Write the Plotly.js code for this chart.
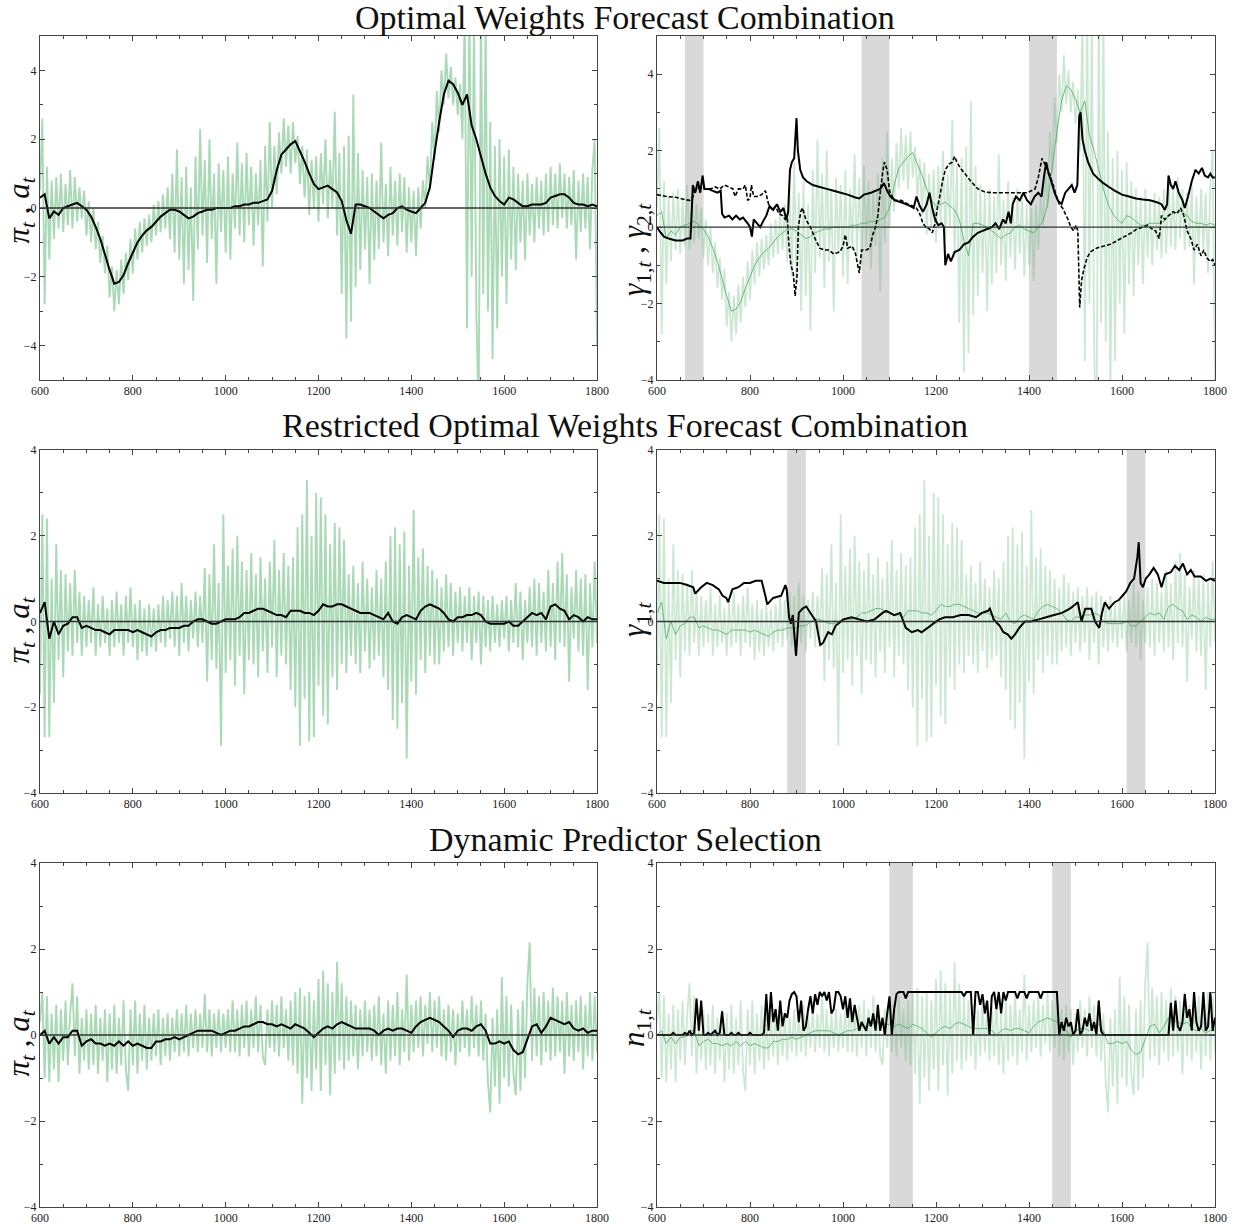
<!DOCTYPE html>
<html>
<head>
<meta charset="utf-8">
<script src="https://cdn.plot.ly/plotly-3.0.1.min.js"></script>
<style>html,body{margin:0;padding:0;background:#fff}#chart{width:1238px;height:1225px}</style>
</head>
<body>
<div id="chart"></div>
<script>
// ---------------- DATA ----------------
const T0 = 600;            // first time index
const tickTimes = [600, 800, 1000, 1200, 1400, 1600, 1800];

// Row 1: Optimal Weights Forecast Combination
// noisy green series, sampled every 5 periods (600..1800)
const piOW = [
  0.5,2.6,-2.8,1.2,-1.5,0.8,-0.9,0.9,-0.6,1.0, -0.7,0.7,-0.5,1.1,-0.6,0.9,-0.4,0.6,-0.3,0.5,
  -0.8,0.2,-1.0,0.0,-1.2,-0.4,-1.6,-0.8,-1.9,-1.1, -2.6,-1.7,-3.0,-1.8,-2.8,-1.5,-2.5,-1.3,-2.1,-0.9,
  -1.9,-0.6,-1.5,-0.4,-1.3,-0.3,-1.1,-0.2,-1.0,0.1, -0.8,0.2,-0.7,0.4,-0.6,0.6,-0.9,1.0,-1.3,1.7,
  -1.5,0.9,-2.2,1.2,-1.8,0.6,-2.7,1.5,-1.2,2.3, -0.8,1.4,-1.6,2.0,-0.9,1.0,-2.2,1.3,-0.7,1.1,
  -1.3,1.5,-1.5,1.0,-0.6,1.9,-0.8,1.3,-1.0,1.6, -0.5,1.2,-1.1,1.0,-0.5,1.4,-1.7,1.8,-0.4,2.5,
  0.0,1.8,0.4,2.2,1.0,2.6,1.2,2.4,1.0,2.5, 1.3,2.1,0.7,1.8,0.3,1.7,-0.2,1.4,0.0,1.5,
  -0.4,1.6,0.1,2.0,-0.3,1.4,0.0,2.8,-0.8,1.6, -2.5,1.8,-3.8,2.1,-3.3,3.3,-2.3,1.6,-1.8,1.1,
  -1.2,0.9,-2.2,1.0,-1.5,0.8,-1.2,1.9,-1.0,0.7, -1.4,1.2,-0.8,0.8,-1.1,1.0,-0.7,0.9,-1.3,0.6,
  -1.0,0.5,-1.4,0.6,-0.6,0.8,0.0,1.5,0.5,2.5, 1.4,3.4,2.2,4.0,3.0,4.5,3.2,4.1,3.0,3.8,
  2.7,3.6,2.0,5.5,-3.5,6.0,-2.0,5.5,-3.0,-6.0, 6.0,-2.5,5.5,-3.0,2.5,-4.4,1.8,-3.5,2.0,-2.0,
  1.5,-2.8,1.7,-1.5,1.2,-1.8,1.0,-1.0,0.8,-1.5, 1.0,-0.8,0.7,-1.0,0.9,-0.6,0.8,-0.8,1.0,-0.7,
  1.2,-0.5,1.0,-0.6,1.3,-0.3,1.0,-0.6,0.9,-0.5, 1.1,-1.5,0.8,-0.7,1.0,-0.6,0.9,-1.2,1.1,2.0,
  -4.0
];
// smooth black series a_t, sampled every 10 periods
const aOW = [
  0.3,0.4,-0.3,-0.1,-0.2,0.0,0.05,0.1,0.15,0.05,
  -0.05,-0.25,-0.55,-0.9,-1.35,-1.8,-2.2,-2.15,-1.95,-1.6,
  -1.3,-1.0,-0.8,-0.65,-0.55,-0.4,-0.25,-0.15,-0.05,-0.05,
  -0.1,-0.2,-0.3,-0.25,-0.15,-0.1,-0.05,-0.05,0.0,0.0,
  0.0,0.0,0.05,0.05,0.1,0.1,0.15,0.15,0.2,0.25,
  0.5,1.1,1.55,1.7,1.85,1.95,1.65,1.35,1.0,0.7,
  0.55,0.6,0.65,0.55,0.45,0.2,-0.35,-0.75,0.1,0.1,
  0.05,0.0,-0.1,-0.2,-0.3,-0.2,-0.15,0.0,0.05,-0.05,
  -0.1,-0.15,0.0,0.15,0.6,1.6,2.5,3.3,3.7,3.6,
  3.35,3.0,3.3,2.4,2.0,1.5,1.0,0.6,0.35,0.2,
  0.1,0.3,0.25,0.15,0.05,0.05,0.1,0.1,0.1,0.15,
  0.3,0.35,0.4,0.4,0.3,0.15,0.1,0.1,0.05,0.1,
  0.05
];
// gamma_1,t (solid) and gamma_2,t (dashed)
const g1OWt = [600,605,615,625,640,655,665,672,675,677,682,688,693,698,702,710,720,730,737,740,745,755,762,770,778,785,795,800,804,808,815,822,828,835,842,850,858,865,872,878,882,886,890,895,900,903,908,914,922,935,950,965,980,995,1010,1025,1035,1045,1060,1070,1080,1088,1095,1102,1112,1125,1135,1145,1152,1158,1165,1172,1180,1186,1192,1198,1205,1212,1217,1220,1226,1232,1240,1250,1260,1270,1280,1290,1300,1310,1320,1328,1336,1344,1350,1356,1361,1365,1372,1380,1388,1396,1404,1412,1420,1427,1432,1437,1442,1448,1455,1462,1470,1478,1485,1492,1498,1504,1508,1511,1515,1520,1527,1538,1550,1560,1572,1585,1600,1615,1630,1645,1660,1675,1685,1692,1697,1700,1705,1710,1715,1722,1730,1735,1742,1750,1758,1765,1772,1778,1785,1790,1795,1800];
const g1OWv = [0.0,-0.1,-0.25,-0.3,-0.35,-0.35,-0.3,-0.3,0.5,1.1,0.9,1.2,0.9,1.35,1.0,1.0,0.95,0.9,0.95,0.35,0.25,0.3,0.2,0.3,0.2,0.25,0.1,0.0,-0.25,0.2,0.1,0.0,0.15,0.3,0.55,0.45,0.6,0.4,0.5,0.2,0.4,1.5,1.7,1.8,2.85,2.0,1.5,1.3,1.2,1.1,1.05,1.0,0.95,0.9,0.85,0.78,0.75,0.85,0.9,0.95,1.0,1.15,0.95,0.8,0.7,0.65,0.6,0.55,0.5,0.8,0.55,0.4,0.6,0.9,0.5,0.2,0.05,0.1,0.0,-1.0,-0.7,-0.9,-0.65,-0.6,-0.45,-0.4,-0.25,-0.15,-0.1,-0.05,0.0,0.1,-0.05,0.2,0.1,0.4,0.1,0.6,0.8,0.7,0.9,0.7,0.6,0.8,0.9,0.8,1.3,1.7,1.4,1.2,0.9,0.7,0.6,0.9,1.0,1.1,0.9,1.1,2.9,3.0,2.3,2.0,1.7,1.4,1.25,1.15,1.05,0.95,0.85,0.8,0.75,0.72,0.7,0.65,0.6,0.45,0.6,1.35,1.1,1.0,1.2,0.9,0.7,0.5,0.8,1.2,1.5,1.4,1.55,1.35,1.3,1.4,1.3,1.3];
const g2OWt = [600,620,640,660,670,676,680,686,695,705,715,725,735,745,755,763,768,775,785,790,795,800,803,808,815,825,833,840,848,855,862,870,876,880,884,888,893,897,901,904,909,913,920,930,940,950,960,970,980,993,1000,1005,1010,1020,1027,1030,1035,1040,1050,1058,1064,1070,1075,1080,1085,1089,1095,1100,1110,1125,1140,1150,1158,1165,1172,1178,1186,1192,1198,1203,1208,1214,1220,1228,1235,1240,1245,1252,1262,1275,1290,1305,1320,1340,1360,1380,1395,1405,1413,1420,1428,1436,1444,1452,1458,1465,1472,1478,1484,1490,1496,1501,1505,1509,1513,1518,1525,1532,1545,1560,1575,1590,1605,1620,1632,1645,1655,1665,1672,1680,1685,1692,1700,1710,1718,1726,1733,1740,1748,1755,1762,1770,1776,1782,1790,1795,1800];
const g2OWv = [0.85,0.8,0.78,0.72,0.7,0.75,0.9,1.0,1.05,1.0,1.0,1.05,1.0,1.1,1.05,1.0,0.8,1.0,1.0,1.1,0.7,0.75,1.1,0.8,0.8,0.85,0.95,0.6,0.45,0.55,0.35,0.3,0.2,0.25,-0.5,-1.0,-1.2,-1.8,-1.3,0.0,0.4,0.5,0.2,0.0,-0.3,-0.55,-0.6,-0.6,-0.7,-0.65,-0.5,-0.2,-0.55,-0.5,-0.7,-0.9,-1.2,-0.6,-0.6,-0.55,-0.2,0.0,0.3,0.9,1.4,1.7,1.5,0.95,0.7,0.7,0.6,0.55,0.5,0.35,0.1,0.0,-0.05,-0.15,0.1,0.5,0.8,1.2,1.5,1.65,1.7,1.85,1.7,1.55,1.4,1.2,1.0,0.92,0.9,0.9,0.9,0.9,0.9,0.95,1.0,1.3,1.8,1.6,1.4,1.1,0.85,0.6,0.5,0.35,0.2,0.0,-0.1,0.05,-0.1,-2.1,-1.4,-1.1,-0.8,-0.65,-0.55,-0.5,-0.45,-0.35,-0.25,-0.15,-0.05,0.0,0.05,-0.05,-0.1,-0.3,0.3,0.2,0.3,0.4,0.35,0.5,0.3,-0.1,-0.3,-0.6,-0.45,-0.75,-0.6,-0.8,-0.9,-0.85,-1.0];
const bandsOW = [[660, 700], [1040, 1100], [1400, 1460]];

// Row 2: Restricted Optimal Weights Forecast Combination
const piROW = [
  -1.7,2.5,-2.7,2.4,-2.7,1.0,-1.9,1.8,-0.9,1.2, -1.3,1.1,-0.7,0.9,-0.8,1.2,-0.5,0.7,-0.8,0.6,
  -0.6,0.5,-0.5,0.8,-0.8,0.4,-0.6,0.6,-0.5,0.3, -0.8,0.5,-0.6,0.7,-0.5,0.4,-0.8,0.6,-0.5,0.8,
  -0.6,0.4,-0.9,0.5,-0.7,0.3,-0.8,0.4,-0.6,0.3, -0.7,0.4,-0.5,0.6,-0.6,0.5,-0.4,0.7,-0.6,0.6,
  -0.8,0.9,-0.5,0.6,-0.7,0.5,-0.4,0.7,-0.6,0.6, -0.5,1.25,-1.4,1.1,-0.9,1.8,-1.1,0.9,-2.9,2.5,
  -1.2,1.3,-0.9,1.7,-1.5,2.0,-0.8,1.4,-1.7,1.2, -0.9,1.6,-1.0,1.1,-1.3,1.5,-0.7,1.0,-1.2,1.4,
  -0.6,1.9,-1.3,1.2,-0.8,1.6,-1.0,1.3,-1.6,1.5, -2.0,2.2,-2.9,2.5,-1.8,3.3,-2.8,2.0,-2.7,3.0,
  -1.5,2.9,-2.2,2.5,-2.4,1.8,-1.3,2.3,-1.6,2.2, -1.0,1.9,-1.2,1.1,-0.8,1.3,-1.0,0.9,-1.2,1.4,
  -0.7,1.0,-1.1,0.8,-0.9,1.2,-0.8,1.0,-1.3,1.4, -1.6,2.0,-2.3,2.2,-2.5,1.8,-1.9,2.1,-3.2,1.3,
  -1.4,2.6,-1.7,1.5,-0.9,1.7,-1.2,1.3,-0.8,1.2, -1.0,1.0,-1.0,0.8,-0.7,1.1,-0.6,0.9,-0.8,0.7,
  -0.5,0.8,-0.7,0.6,-0.5,0.8,-0.9,0.6,-0.5,0.7, -1.0,0.6,-0.6,0.5,-0.7,0.6,-0.5,0.4,-0.6,0.5,
  -0.4,0.6,-0.7,0.5,-0.5,0.9,-0.6,0.7,-0.9,0.5, -0.5,0.8,-0.6,1.0,-0.8,0.9,-0.5,0.7,-0.7,1.2,
  -0.6,0.9,-0.9,1.4,-0.5,1.6,-0.6,1.1,-1.4,0.8, -0.4,1.2,-0.7,1.0,-0.8,1.1,-1.6,0.9,-0.6,1.4,
  -0.5
];
const aROW = [
  0.2,0.45,-0.4,0.0,-0.3,-0.1,-0.05,0.1,0.1,-0.15,
  -0.1,-0.15,-0.2,-0.2,-0.25,-0.3,-0.2,-0.2,-0.2,-0.2,
  -0.25,-0.2,-0.25,-0.3,-0.35,-0.25,-0.2,-0.2,-0.15,-0.15,
  -0.15,-0.1,-0.1,0.0,0.05,0.05,0.0,-0.05,-0.05,0.0,
  0.05,0.05,0.05,0.1,0.2,0.2,0.25,0.3,0.3,0.25,
  0.2,0.15,0.15,0.1,0.25,0.25,0.25,0.2,0.2,0.15,
  0.25,0.4,0.35,0.35,0.4,0.4,0.35,0.3,0.25,0.2,
  0.2,0.2,0.15,0.1,0.05,0.2,0.0,-0.05,0.1,0.15,
  0.1,0.05,0.25,0.35,0.4,0.35,0.3,0.2,0.05,0.0,
  0.1,0.1,0.15,0.15,0.2,0.15,0.0,-0.05,-0.05,-0.05,
  -0.05,0.0,-0.1,-0.1,0.0,0.1,0.2,0.15,0.2,0.05,
  0.35,0.4,0.3,0.25,0.05,0.15,0.1,0.0,0.1,0.05,
  0.05
];
const g1ROWt = [600,615,649,665,678,682,695,707,720,733,741,749,753,762,775,787,800,812,825,833,837,850,867,876,879,884,888,892,899,905,913,921,930,942,951,957,968,976,984,1001,1018,1035,1051,1068,1085,1093,1110,1123,1135,1148,1161,1169,1182,1194,1207,1219,1236,1253,1270,1286,1299,1312,1316,1324,1337,1345,1354,1362,1370,1379,1391,1404,1421,1437,1454,1471,1488,1500,1505,1513,1521,1534,1542,1551,1557,1563,1572,1584,1593,1601,1609,1618,1626,1633,1636,1640,1645,1651,1659,1668,1677,1685,1693,1705,1714,1723,1731,1740,1748,1756,1769,1781,1790,1800];
const g1ROWv = [0.95,0.9,0.9,0.85,0.8,0.65,0.8,0.9,0.85,0.75,0.6,0.55,0.45,0.75,0.8,0.9,0.9,0.95,0.95,0.6,0.4,0.55,0.6,0.85,0.75,0.1,-0.05,0.15,-0.8,0.2,0.3,0.35,0.2,0.0,-0.55,-0.5,-0.25,-0.3,-0.1,0.05,0.1,0.05,0.0,0.05,0.2,0.25,0.15,0.2,-0.15,-0.25,-0.2,-0.25,-0.15,-0.05,0.05,0.1,0.1,0.15,0.15,0.1,0.2,0.25,0.3,0.05,-0.1,-0.25,-0.3,-0.4,-0.3,-0.15,0.0,0.0,0.05,0.1,0.15,0.2,0.3,0.4,0.45,0.0,0.3,0.3,0.0,-0.15,0.2,0.45,0.3,0.45,0.5,0.6,0.7,0.9,1.0,1.5,1.85,0.9,0.8,1.0,1.1,1.25,1.1,0.8,1.1,1.15,1.3,1.2,1.35,1.1,1.2,1.05,1.05,0.95,1.0,0.95];
const bandsROW = [[880, 920], [1610, 1650]];

// Row 3: Dynamic Predictor Selection
const piDPS = [
  0.3,1.0,-1.0,0.9,-1.1,0.5,-0.8,0.7,-1.1,0.6, -0.6,0.8,-0.7,0.5,1.2,-0.5,0.9,-0.9,0.4,-0.6,
  0.6,-0.8,0.5,-0.7,0.7,-0.9,0.4,-0.6,0.6,-1.1, 0.5,-0.8,0.7,-0.9,0.4,-0.7,0.8,-0.8,-1.3,0.6,
  -0.7,0.8,-0.9,0.5,-0.6,0.7,-0.8,0.4,-0.6,0.5, -0.5,0.6,-0.7,0.4,-0.5,0.5,-0.6,0.4,-0.4,0.6,
  -0.5,0.5,-0.4,0.7,-0.5,0.5,-0.3,0.6,-0.4,0.5, -0.3,0.95,-0.4,0.6,-0.5,0.5,-0.3,0.6,-0.4,0.5,
  -0.3,0.6,-0.4,0.8,-0.4,0.6,-0.5,0.7,-0.3,0.8, -0.5,0.6,-0.3,0.9,-0.4,0.7,-0.5,-0.7,0.6,-0.3,
  0.8,-0.4,0.7,-0.5,0.9,-0.3,0.6,-0.6,0.8,-0.7, 1.0,-0.9,1.1,-1.6,0.9,-1.0,1.0,-1.3,0.8,-0.8,
  1.3,-1.3,1.5,-0.7,1.2,-1.4,1.0,-0.9,1.7,-0.6, 1.2,-0.8,0.9,-0.6,0.8,-0.5,0.7,-0.8,0.6,-0.5,
  0.8,-0.4,0.6,-0.6,0.7,-0.5,0.9,-0.7,0.5,-0.9, 0.8,-0.6,0.7,-0.5,1.0,-0.7,0.6,-0.4,1.4,-0.6,
  0.7,-0.4,0.8,-0.3,0.9,-0.5,0.7,-0.2,1.0,-0.4, 0.8,-0.3,0.9,-0.5,0.6,-0.6,0.7,-0.4,0.6,-0.7,
  0.5,-0.4,0.8,-0.3,0.6,-0.5,0.9,-0.3,0.7,-0.5, 0.8,-0.6,0.5,-1.1,-1.8,0.4,-1.2,0.6,-1.6,1.35,
  -1.0,0.9,-1.2,0.7,-0.9,-1.4,0.6,-1.3,0.8,-1.0, 1.2,2.15,-0.6,1.1,-0.5,0.9,-0.7,1.0,-0.4,0.8,
  -0.6,1.1,-0.5,0.9,-0.4,0.8,-0.9,1.0,-0.5,0.7, -0.6,0.8,-0.4,0.9,-0.8,0.7,-0.5,1.0,-0.6,0.9,
  -0.4
];
const aDPS = [
  0.0,0.1,-0.2,-0.05,-0.2,-0.05,-0.05,0.1,0.1,-0.25,
  -0.15,-0.1,-0.2,-0.2,-0.25,-0.2,-0.25,-0.15,-0.25,-0.15,
  -0.25,-0.2,-0.25,-0.3,-0.3,-0.15,-0.15,-0.1,-0.1,-0.05,
  -0.1,-0.05,0.0,0.05,0.1,0.1,0.1,0.1,0.05,0.0,
  0.05,0.1,0.1,0.15,0.2,0.2,0.25,0.3,0.3,0.25,
  0.25,0.2,0.25,0.2,0.15,0.25,0.2,0.15,0.05,-0.05,
  0.05,0.15,0.2,0.15,0.25,0.3,0.25,0.2,0.15,0.15,
  0.15,0.15,0.1,0.0,0.1,0.15,0.1,0.15,0.15,0.1,
  0.05,0.2,0.3,0.35,0.4,0.35,0.3,0.2,0.1,-0.05,
  0.1,0.15,0.15,0.1,0.2,0.25,0.1,-0.2,-0.2,-0.15,
  -0.2,-0.15,-0.35,-0.45,-0.4,-0.1,0.2,0.25,0.05,0.2,
  0.4,0.35,0.3,0.25,0.3,0.15,0.1,0.15,0.05,0.1,
  0.1
];
// n_1,t, sampled every 5 periods
const n1DPS = [
  0,0,0,0,0,0,0,0.05,0,0, 0,0,0.05,0,0.1,0,0.05,0.85,0.1,0.8,
  0,0,0.05,0,0.05,0.1,0,0.05,0.55,0, 0,0,0.05,0,0,0.05,0,0,0,0,
  0.05,0,0,0,0,0,0.05,0.95,0.1,1.0, 0.3,0.6,0.1,0.8,0.2,0.5,0.4,0.8,0.95,1.0,
  0.9,0.3,0.8,0.1,0.2,0.6,0.9,0.5,0.95,0.7, 1.0,0.9,1.0,0.8,1.0,0.5,0.6,1.0,1.0,0.9,
  0.6,0.9,0.4,0.85,0.3,0.7,0.4,0.1,0.3,0.2, 0.1,0.4,0.2,0.5,0.1,0.7,0.1,0.4,0.0,0.5,
  0.9,0.0,0.6,0.95,1,1,1,0.85,1,1, 1,1,1,1,1,1,1,1,1,1,
  1,1,1,1,1,1,1,1,1,1, 1,1,0.9,1,1,1,0,1,1,0.7,
  0.95,0.5,0.8,0,0.9,1,0.6,1,0.5,1, 0.8,1,1,1,1,0.85,1,1,1,0.85,
  1,1,1,1,1,0.85,1,1,1,1, 1,1,1,0,0.3,0.1,0.4,0.2,0.3,0,
  0.1,0.6,0,0.1,0.4,0.2,0.5,0.1,0.3,0, 0.8,0.1,0,0,0,0,0,0,0,0,
  0,0,0,0,0,0,0,0,0,0, 0,0,0,0,0,0,0,0,0,0,
  0,0.75,0.1,0.8,0.2,0.1,0.3,0.95,0.4,0.6, 0.1,1.0,0.3,0.1,0.2,1.0,0.1,0.2,1.0,0.1,
  0.4
];
const bandsDPS = [[1100, 1150], [1450, 1490]];

const rowTitles = ["Optimal Weights Forecast Combination",
                   "Restricted Optimal Weights Forecast Combination",
                   "Dynamic Predictor Selection"];
const yLabels = [
  "<i>π</i><sub><i>t</i></sub> , <i>a</i><sub><i>t</i></sub>",
  "<i>γ</i><sub>1,<i>t</i></sub> , <i>γ</i><sub>2,<i>t</i></sub>",
  "<i>π</i><sub><i>t</i></sub> , <i>a</i><sub><i>t</i></sub>",
  "<i>γ</i><sub>1,<i>t</i></sub>",
  "<i>π</i><sub><i>t</i></sub> , <i>a</i><sub><i>t</i></sub>",
  "<i>n</i><sub>1,<i>t</i></sub>"
];

// ---------------- STYLE / LAYOUT ----------------
function times(arr, step) { return arr.map((_, i) => T0 + i * step); }

const W = 1238, H = 1225;
const colL = [40 / W, 597 / W], colR = [657 / W, 1215 / W];
const rows = [[1 - 380 / H, 1 - 36 / H], [1 - 793 / H, 1 - 450 / H], [1 - 1207 / H, 1 - 863 / H]];
const yRanges = [[-5, 5], [-4, 5], [-4, 4], [-4, 4], [-4, 4], [-4, 4]];

const greenL = 'rgba(100,185,122,0.55)';
const greenR = 'rgba(100,185,122,0.33)';
const greenSmooth = 'rgba(70,165,95,0.75)';

const traces = [];
function add(xs, ys, ax, color, width, dash) {
  traces.push({
    x: xs, y: ys, type: 'scatter', mode: 'lines',
    xaxis: 'x' + (ax === 1 ? '' : ax), yaxis: 'y' + (ax === 1 ? '' : ax),
    line: { color: color, width: width, dash: dash || 'solid', simplify: false },
    hoverinfo: 'skip', showlegend: false
  });
}
// Row 1
add(times(piOW, 5), piOW, 1, greenL, 1.9);
add(times(aOW, 10), aOW, 1, '#000', 2);
add(times(piOW, 5), piOW, 2, greenR, 1.8);
add(times(aOW, 10), aOW, 2, greenSmooth, 1);
add(g2OWt, g2OWv, 2, '#000', 1.6, '4px,2px');
add(g1OWt, g1OWv, 2, '#000', 2);
// Row 2
add(times(piROW, 5), piROW, 3, greenL, 1.9);
add(times(aROW, 10), aROW, 3, '#000', 2);
add(times(piROW, 5), piROW, 4, greenR, 1.8);
add(times(aROW, 10), aROW, 4, greenSmooth, 1);
add(g1ROWt, g1ROWv, 4, '#000', 2);
// Row 3
add(times(piDPS, 5), piDPS, 5, greenL, 1.9);
add(times(aDPS, 10), aDPS, 5, '#000', 2);
add(times(piDPS, 5), piDPS, 6, greenR, 1.8);
add(times(aDPS, 10), aDPS, 6, greenSmooth, 1);
add(times(n1DPS, 5), n1DPS, 6, '#000', 2);

const layout = {
  width: W, height: H, autosize: false,
  margin: { l: 0, r: 0, t: 0, b: 0 },
  paper_bgcolor: '#fff', plot_bgcolor: '#fff',
  showlegend: false,
  shapes: [], annotations: []
};
const tickFont = { family: 'Liberation Serif, serif', size: 12, color: '#222' };
for (let i = 1; i <= 6; i++) {
  const s = i === 1 ? '' : i;
  const col = (i % 2 === 1) ? colL : colR;
  const row = rows[Math.floor((i - 1) / 2)];
  layout['xaxis' + s] = {
    domain: col, anchor: 'y' + s, range: [600, 1800],
    tickvals: tickTimes, ticks: 'inside', ticklen: 5, tickcolor: '#444', tickwidth: 1,
    minor: { dtick: 50, tick0: 600, ticks: 'inside', ticklen: 3, tickcolor: '#444' },
    showline: true, linecolor: '#444', linewidth: 1, mirror: 'allticks',
    showgrid: false, zeroline: false, tickfont: tickFont, fixedrange: true
  };
  layout['yaxis' + s] = {
    domain: row, anchor: 'x' + s, range: yRanges[i - 1],
    dtick: 2, tick0: 0, ticks: 'inside', ticklen: 5, tickcolor: '#444', tickwidth: 1,
    minor: { dtick: 1, ticks: 'inside', ticklen: 3, tickcolor: '#444' },
    showline: true, linecolor: '#444', linewidth: 1, mirror: 'allticks',
    showgrid: false, zeroline: false, tickfont: tickFont, fixedrange: true
  };
  // zero line
  layout.shapes.push({ type: 'line', xref: 'x' + s + ' domain', yref: 'y' + s, x0: 0, x1: 1, y0: 0, y1: 0,
    line: { color: '#333', width: 1.3 }, layer: 'above' });
}
// shaded bands
function bands(list, s) {
  list.forEach(b => layout.shapes.push({ type: 'rect', xref: 'x' + s, yref: 'y' + s + ' domain',
    x0: b[0], x1: b[1], y0: 0, y1: 1, fillcolor: '#d9d9d9', line: { width: 0 }, layer: 'below' }));
}
bands(bandsOW, 2); bands(bandsROW, 4); bands(bandsDPS, 6);

// row titles
const titleY = [1 - 18 / H, 1 - 426 / H, 1 - 839 / H];
rowTitles.forEach((t, k) => layout.annotations.push({
  text: t, xref: 'paper', yref: 'paper', x: 625 / W, y: titleY[k], xanchor: 'center', yanchor: 'middle',
  showarrow: false, font: { family: 'Liberation Serif, serif', size: 34, color: '#111' }
}));
// y labels
const labX = [20.5, 636, 20.5, 636, 20.5, 636];
const labY = [210, 250, 630, 620, 1043, 1028];
yLabels.forEach((t, k) => layout.annotations.push({
  text: t, xref: 'paper', yref: 'paper', x: labX[k] / W, y: 1 - labY[k] / H,
  xanchor: 'center', yanchor: 'middle', textangle: -90, showarrow: false,
  font: { family: 'Liberation Serif, serif', size: 31, color: '#111' }
}));

Plotly.newPlot('chart', traces, layout, { staticPlot: true, displayModeBar: false });
</script>
</body>
</html>
